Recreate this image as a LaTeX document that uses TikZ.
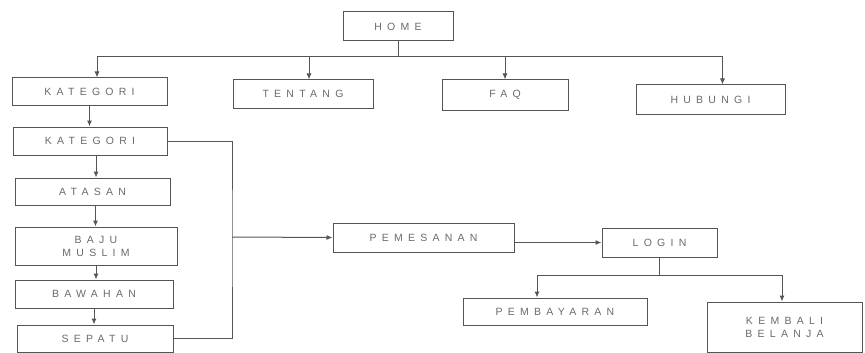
\documentclass[tikz,border=0pt]{standalone}
\usepackage{fontspec}
\setmainfont[LetterSpace=50]{Liberation Sans}
\usetikzlibrary{arrows.meta}
\definecolor{linegray}{HTML}{555555}
\definecolor{textgray}{HTML}{6A6A6A}
\begin{document}
\begin{tikzpicture}[
        x=1pt, y=-1pt,
        menubox/.style={draw=linegray, line width=1pt, text=textgray, inner sep=0pt, align=center},
        link/.style={draw=linegray, line width=1pt},
        arrow/.style={link, -{Latex[length=6pt,width=5pt]}},
        every node/.style={font=\fontsize{10.5}{13}\selectfont}
        ]
        \useasboundingbox (0,0) rectangle (865,353);
        % menu atas
        \node[menubox, minimum width=110, minimum height=29] (home) at (398,26.5) {HOME};
        \node[menubox, minimum width=155, minimum height=27] (kategori) at (89.5,91.5) {KATEGORI};
        \node[menubox, minimum width=140, minimum height=28] (tentang) at (303,94) {TENTANG};
        \node[menubox, minimum width=126, minimum height=30] (faq) at (505,95) {FAQ};
        \node[menubox, minimum width=149, minimum height=29] (hubungi) at (710.5,99.5) {HUBUNGI};
        % kolom kategori
        \node[menubox, minimum width=154, minimum height=28] (jenis) at (90,141) {KATEGORI};
        \node[menubox, minimum width=155, minimum height=27] (atasan) at (92.5,191.5) {ATASAN};
        \node[menubox, minimum width=162, minimum height=38] (baju) at (96,246) {BAJU\\MUSLIM};
        \node[menubox, minimum width=158, minimum height=28] (bawahan) at (94,294) {BAWAHAN};
        \node[menubox, minimum width=156, minimum height=27] (sepatu) at (95,338.5) {SEPATU};
        % alur pemesanan
        \node[menubox, minimum width=181, minimum height=29] (pemesanan) at (423.5,237.5) {PEMESANAN};
        \node[menubox, minimum width=115, minimum height=29] (login) at (659.5,242.5) {LOGIN};
        \node[menubox, minimum width=184, minimum height=27] (pembayaran) at (555,311.5) {PEMBAYARAN};
        \node[menubox, minimum width=155, minimum height=50] (kembali) at (784.5,327) {KEMBALI\\BELANJA};
        \coordinate (bus) at (97,57);
        \coordinate (brk) at (232,237);
        \coordinate (payL) at (537,275);
        \coordinate (payR) at (782,275);
        % garis dari home
        \draw[link] (home.south) -- (home.south |- bus);
        \draw[link] (bus) -- ([xshift=12]hubungi.north |- bus);
        \draw[arrow] (bus) -- (bus |- kategori.north);
        \draw[arrow] ([xshift=6]tentang.north |- bus) -- ([xshift=6]tentang.north);
        \draw[arrow] (faq.north |- bus) -- (faq.north);
        \draw[arrow] ([xshift=12]hubungi.north |- bus) -- ([xshift=12]hubungi.north);
        % turun ke sub kategori
        \draw[arrow] (kategori.south) -- (kategori.south |- jenis.north);
        \draw[arrow] ([xshift=6]jenis.south) -- ([xshift=6]jenis.south |- atasan.north);
        \draw[arrow] ([xshift=3]atasan.south) -- ([xshift=3]atasan.south |- baju.north);
        \draw[arrow] (baju.south) -- (baju.south |- bawahan.north);
        \draw[arrow] (bawahan.south) -- (bawahan.south |- sepatu.north);
        % kurung ke pemesanan
        \draw[link] (jenis.east) -| (brk) |- (sepatu.east);
        \draw[arrow] (brk) -- (pemesanan.west);
        \draw[arrow] (pemesanan.east |- login.west) -- (login.west);
        \draw[link] (login.south) -- (login.south |- payL);
        \draw[link] (payL) -- (payR);
        \draw[arrow] (payL) -- (payL |- pembayaran.north);
        \draw[arrow] (payR) -- (payR |- kembali.north);
    \end{tikzpicture}
\end{document}
